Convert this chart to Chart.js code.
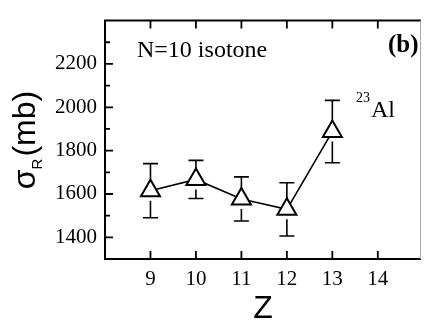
<!DOCTYPE html>
<html>
<head>
<meta charset="utf-8">
<script src="https://cdn.jsdelivr.net/npm/chart.js@4.4.1/dist/chart.umd.min.js"></script>
<style>
  html, body { margin: 0; padding: 0; background: #fff; }
  canvas { display: block; }
</style>
</head>
<body>
<canvas id="sigmaChart" width="434" height="320"></canvas>
<script>
// reaction cross sections along the N=10 isotone chain
const zValues = [9, 10, 11, 12, 13];
const sigmaR = [1615, 1667, 1577, 1529, 1888];
const sigmaErr = [125, 88, 102, 123, 144];

const xTicks = [9, 10, 11, 12, 13, 14];
const yLabels = [1400, 1600, 1800, 2000, 2200];

const serif = '"Liberation Serif", "Times New Roman", serif';
const sans = '"Liberation Sans", Arial, sans-serif';
const markerRadius = 11;

// vertical error bars, split around the open triangle
const errorBars = {
  id: 'errorBars',
  beforeDatasetsDraw(chart) {
    const ctx = chart.ctx;
    const x = chart.scales.x, y = chart.scales.y;
    ctx.save();
    ctx.strokeStyle = '#000';
    ctx.lineWidth = 1.6;
    for (let i = 0; i < zValues.length; i++) {
      const px = x.getPixelForValue(zValues[i]);
      const py = y.getPixelForValue(sigmaR[i]);
      const top = y.getPixelForValue(sigmaR[i] + sigmaErr[i]);
      const bot = y.getPixelForValue(sigmaR[i] - sigmaErr[i]);
      ctx.beginPath();
      ctx.moveTo(px, top); ctx.lineTo(px, py - markerRadius + 1);
      ctx.moveTo(px, py + markerRadius - 1); ctx.lineTo(px, bot);
      ctx.moveTo(px - 7.5, top); ctx.lineTo(px + 7.5, top);
      ctx.moveTo(px - 7.5, bot); ctx.lineTo(px + 7.5, bot);
      ctx.stroke();
    }
    ctx.restore();
  }
};

// box frame, inward ticks and the free text
const frame = {
  id: 'frame',
  afterDraw(chart) {
    const ctx = chart.ctx;
    const a = chart.chartArea;
    const x = chart.scales.x, y = chart.scales.y;
    ctx.save();
    ctx.strokeStyle = '#000';
    ctx.lineWidth = 2;
    ctx.beginPath();
    ctx.moveTo(a.right, a.top); ctx.lineTo(a.left, a.top);
    ctx.lineTo(a.left, a.bottom); ctx.lineTo(a.right, a.bottom);
    ctx.stroke();

    ctx.lineWidth = 1.8;
    ctx.beginPath();
    xTicks.forEach(v => {
      const px = x.getPixelForValue(v);
      ctx.moveTo(px, a.bottom); ctx.lineTo(px, a.bottom - 8);
      ctx.moveTo(px, a.top); ctx.lineTo(px, a.top + 8);
    });
    for (let v = 1400; v <= 2300; v += 100) {
      const py = y.getPixelForValue(v);
      const len = v % 200 === 0 ? 8 : 5;
      ctx.moveTo(a.left, py); ctx.lineTo(a.left + len, py);
    }
    ctx.stroke();

    ctx.strokeStyle = '#aaa';
    ctx.lineWidth = 1;
    ctx.beginPath();
    ctx.moveTo(a.right - 0.5, a.top); ctx.lineTo(a.right - 0.5, a.bottom);
    ctx.stroke();

    ctx.fillStyle = '#000';
    ctx.textBaseline = 'alphabetic';
    ctx.textAlign = 'left';
    ctx.font = '24px ' + serif;
    ctx.fillText('N=10 isotone', 137, 57);
    ctx.font = 'bold 25px ' + serif;
    ctx.fillText('(b)', 388, 52);

    // isotope label next to the last point
    ctx.font = '14px ' + serif;
    ctx.fillText('23', 356, 102);
    const w23 = ctx.measureText('23').width;
    ctx.font = '24px ' + serif;
    ctx.fillText('Al', 356 + w23 + 1, 117);

    // rotated y title with subscript
    ctx.translate(35, 140);
    ctx.rotate(-Math.PI / 2);
    ctx.font = '32px ' + sans;
    const wS = ctx.measureText('\u03c3').width;
    const wP = ctx.measureText('(mb)').width;
    ctx.font = '15px ' + sans;
    const wR = ctx.measureText('R').width;
    const start = -(wS + wR + wP + 2) / 2;
    ctx.font = '32px ' + sans;
    ctx.fillText('\u03c3', start, 0);
    ctx.font = '15px ' + sans;
    ctx.fillText('R', start + wS, 7);
    ctx.font = '32px ' + sans;
    ctx.fillText('(mb)', start + wS + wR + 2, 0);
    ctx.restore();
  }
};

const ctx = document.getElementById('sigmaChart');
const chart = new Chart(ctx, {
  type: 'line',
  data: {
    datasets: [{
      data: zValues.map((z, i) => ({ x: z, y: sigmaR[i] })),
      borderColor: '#000',
      borderWidth: 1.6,
      tension: 0,
      pointStyle: 'triangle',
      pointRadius: markerRadius,
      pointBorderWidth: 2,
      pointBorderColor: '#000',
      pointBackgroundColor: '#fff',
      fill: false
    }]
  },
  options: {
    responsive: false,
    animation: false,
    events: [],
    layout: { padding: { top: 10, right: 1, left: 0, bottom: 0 } },
    plugins: {
      legend: { display: false },
      tooltip: { enabled: false }
    },
    scales: {
      x: {
        type: 'linear',
        min: 8,
        max: 14.95,
        afterFit: s => { s.height = 61; },
        afterBuildTicks: s => { s.ticks = xTicks.map(v => ({ value: v })); },
        grid: { display: false, drawTicks: false },
        border: { display: false },
        ticks: {
          padding: 8,
          color: '#000',
          autoSkip: false,
          font: { family: serif, size: 21 },
          maxRotation: 0
        },
        title: {
          display: true,
          text: 'Z',
          color: '#000',
          font: { family: sans, size: 32, lineHeight: 0.7 },
          padding: 0
        }
      },
      y: {
        min: 1300,
        max: 2400,
        afterFit: s => { s.width = 105; },
        grid: { display: false, drawTicks: false },
        border: { display: false },
        ticks: {
          stepSize: 100,
          padding: 8,
          color: '#000',
          autoSkip: false,
          font: { family: serif, size: 21 },
          callback: v => yLabels.includes(v) ? String(v) : ''
        }
      }
    }
  },
  plugins: [errorBars, frame]
});
</script>
</body>
</html>
